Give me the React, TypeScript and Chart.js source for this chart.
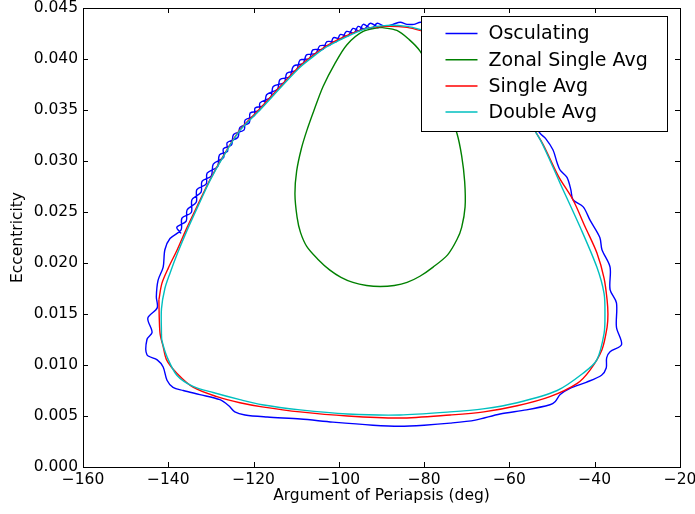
import React, { useEffect, useRef } from "react";
import { Chart, registerables } from "chart.js";

Chart.register(...registerables);

const xTickValues = [-160, -140, -120, -100, -80, -60, -40, -20];
const yTickValues = [0, 0.005, 0.01, 0.015, 0.02, 0.025, 0.03, 0.035, 0.04, 0.045];
const seriesNames = ["Osculating", "Zonal Single Avg", "Single Avg", "Double Avg"];
const seriesColors = ["#0000ff", "#008000", "#ff0000", "#00bfbf"];
const xTitle = "Argument of Periapsis (deg)";
const yTitle = "Eccentricity";

// Osculating (blue)
const osculatingX = [
  -137.0, -138.0, -135.8, -135.6, -133.45, -133.3, -131.1, -130.9, -128.45, -128.0, -126.1, -126.2, -123.7, -123.2,
  -121.0, -120.8, -118.65, -118.5, -115.95, -115.4, -112.8, -112.2, -109.95, -109.1, -106.9, -106.1, -103.75, -102.8,
  -100.55, -99.7, -97.9, -96.7, -95.2, -94.3, -92.35, -91.0,
  -89.2, -87.3, -85.6, -84.0, -82.4, -80.8, -78.5, -76.0, -73.0, -70.0, -67.0, -64.0, -61.5, -59.0, -56.5, -54.5,
  -52.8, -51.5, -49.8, -48.8, -48.1, -46.5, -45.6, -45.1, -42.7, -41.1, -38.8, -38.3, -36.4, -36.4, -34.9, -34.9,
  -33.7, -36.4, -37.2, -37.3, -38.4, -42.0, -45.8, -48.1, -49.3, -50.5, -56.0, -62.2, -68.0, -73.9, -80.0, -85.7,
  -92.0, -101.4, -109.0, -116.8, -122.0, -124.4, -125.8, -127.9, -132.6, -136.5, -138.9, -140.3, -141.2, -142.6,
  -145.0, -145.0, -143.8, -144.8, -142.6, -142.8, -142.4, -141.2, -140.8, -139.6,
  -137.0, -136.8, -134.6, -134.45, -132.3, -132.1, -129.9, -129.45, -127.0, -127.1, -125.2, -124.7, -122.2, -122.0,
  -119.8, -119.65, -117.5, -116.95, -114.4, -113.8, -111.5, -110.65, -108.4, -107.6, -105.4, -104.45, -102.1,
  -101.25, -99.4, -98.2, -96.4, -95.5, -94.0, -92.6, -90.7,
];
const osculatingY = [
  0.0229, 0.0235, 0.0241, 0.0252, 0.02595, 0.0272, 0.02775, 0.0288, 0.02945, 0.0306, 0.03095, 0.0318, 0.0323, 0.0333,
  0.03375, 0.0347, 0.03495, 0.0357, 0.03625, 0.0373, 0.0377, 0.0386, 0.0389, 0.0399, 0.04005, 0.0409, 0.04095, 0.0417,
  0.0417, 0.0424, 0.04225, 0.043, 0.04275, 0.0434, 0.043, 0.0435,
  0.0432, 0.0434, 0.0436, 0.0434, 0.0434, 0.0436, 0.0433, 0.043, 0.0424, 0.0416, 0.0407, 0.0396, 0.0384, 0.0371,
  0.0355, 0.034, 0.0327, 0.0322, 0.0311, 0.0298, 0.0291, 0.0284, 0.0272, 0.0262, 0.0255, 0.0242, 0.0225, 0.0213,
  0.0196, 0.0174, 0.0161, 0.0137, 0.012, 0.0113, 0.0107, 0.0097, 0.009, 0.0083, 0.0077, 0.0071, 0.0064, 0.0061,
  0.0056, 0.0052, 0.0046, 0.0043, 0.0041, 0.004, 0.0041, 0.0044, 0.0047, 0.0049, 0.0051, 0.0054, 0.006, 0.0066,
  0.0071, 0.0075, 0.0078, 0.0085, 0.0098, 0.0105, 0.011, 0.0125, 0.0132, 0.0146, 0.0156, 0.0167, 0.0183, 0.0196,
  0.0213, 0.0224,
  0.02325, 0.0244, 0.02495, 0.0262, 0.02695, 0.028, 0.02855, 0.0297, 0.03035, 0.0312, 0.03155, 0.0326, 0.03305, 0.034,
  0.03445, 0.0352, 0.03545, 0.0365, 0.03705, 0.038, 0.03825, 0.0393, 0.03955, 0.0404, 0.04055, 0.0413, 0.04135,
  0.0421, 0.04195, 0.0427, 0.04255, 0.0432, 0.04295, 0.0435, 0.04305,
];

// Zonal Single Avg (green)
const zonalX = [
  -90.3, -86.4, -83.5, -81.0, -78.5, -76.0, -74.0, -72.3, -71.2, -70.5, -70.4, -71.2, -72.3, -74.5, -77.9, -81.0,
  -84.0, -87.0, -90.3, -93.5, -96.7, -99.5, -102.1, -105.0, -107.5, -109.0, -109.8, -110.3, -109.9, -108.8,
  -107.5, -105.8, -103.7, -101.0, -98.1, -94.3, -90.3,
];
const zonalY = [
  0.0431, 0.0428, 0.0419, 0.0408, 0.039, 0.0365, 0.0345, 0.0327, 0.0305, 0.028, 0.0255, 0.0235, 0.0223, 0.0208,
  0.0196, 0.0187, 0.0181, 0.0178, 0.0177, 0.0178, 0.0181, 0.0186, 0.0193, 0.0204, 0.0216, 0.023, 0.0245, 0.0268,
  0.029, 0.0312, 0.033, 0.035, 0.0373, 0.0395, 0.0414, 0.0427, 0.0431,
];

// Single Avg (red)
const singleX = [
  -142.2, -141.5, -140.0, -137.9, -135.8, -133.2, -130.3, -127.1, -123.3, -118.6, -113.1, -109.2, -105.6, -102.9,
  -98.2, -93.5, -88.7, -84.0, -81.0, -76.0, -70.0, -64.0, -58.0, -52.6, -48.5, -45.1, -42.2, -39.5, -37.8, -37.1,
  -36.9, -37.1, -38.3, -41.1, -44.1, -50.5, -58.2, -66.0, -73.9, -85.7, -98.0, -109.1, -118.0, -123.2, -128.6,
  -134.1, -138.0, -140.4, -141.2, -141.9, -142.1, -142.2,
];
const singleY = [
  0.0164, 0.018, 0.0195, 0.0213, 0.0233, 0.0256, 0.0281, 0.0305, 0.033, 0.0351, 0.0376, 0.0393, 0.0405, 0.0413,
  0.0423, 0.043, 0.0432, 0.0431, 0.0428, 0.0421, 0.0404, 0.0382, 0.0354, 0.032, 0.0285, 0.0262, 0.0235, 0.021,
  0.0185, 0.0164, 0.015, 0.0137, 0.0115, 0.0095, 0.0082, 0.0069, 0.006, 0.0054, 0.0051, 0.0048, 0.005, 0.0054,
  0.0059, 0.0063, 0.0069, 0.0078, 0.0092, 0.0105, 0.0118, 0.013, 0.0144, 0.0164,
];

// Double Avg (cyan)
const doubleX = [
  -141.6, -141.6, -140.8, -139.6, -137.8, -135.6, -133.0, -130.2, -127.0, -123.2, -118.5, -113.0, -109.1, -105.5,
  -102.8, -98.1, -93.4, -88.7, -84.0, -81.0, -76.0, -70.0, -64.0, -58.0, -52.8, -48.1, -43.4, -39.5, -37.8, -37.6,
  -37.8, -39.5, -42.7, -48.8, -58.2, -66.2, -73.9, -85.7, -98.0, -109.1, -118.0, -123.2, -129.5, -134.2, -138.0,
  -140.3, -141.5, -141.6,
];
const doubleY = [
  0.013, 0.0155, 0.0175, 0.019, 0.021, 0.0232, 0.0256, 0.0281, 0.0305, 0.033, 0.035, 0.0375, 0.0392, 0.0404,
  0.0412, 0.0422, 0.043, 0.0433, 0.0432, 0.0429, 0.0422, 0.0405, 0.0383, 0.0355, 0.0321, 0.0278, 0.0235, 0.0196,
  0.017, 0.015, 0.0131, 0.0105, 0.0092, 0.0075, 0.0063, 0.0057, 0.0054, 0.0051, 0.0052, 0.0056, 0.0061, 0.0066,
  0.0073, 0.0079, 0.009, 0.0108, 0.0124, 0.013,
];

const FONT = "DejaVu Sans";

const toPoints = (xs: number[], ys: number[]) => xs.map((x, i) => ({ x, y: ys[i] }));

const fmtX = (v: number) => (v < 0 ? "\u2212" + Math.abs(v) : String(v));

const framePlugin = {
  id: "mplFrame",
  afterDraw(chart: any) {
    const { ctx, chartArea } = chart;
    const { left, right, top, bottom } = chartArea;
    const xs = chart.scales.x;
    const ys = chart.scales.y;
    ctx.save();
    ctx.strokeStyle = "#000";
    ctx.lineWidth = 1;
    // inward ticks
    ctx.beginPath();
    xTickValues.forEach((v) => {
      const p = Math.round(xs.getPixelForValue(v)) + 0.5;
      ctx.moveTo(p, bottom);
      ctx.lineTo(p, bottom - 5);
      ctx.moveTo(p, top);
      ctx.lineTo(p, top + 5);
    });
    yTickValues.forEach((v) => {
      const p = Math.round(ys.getPixelForValue(v)) + 0.5;
      ctx.moveTo(left, p);
      ctx.lineTo(left + 5, p);
      ctx.moveTo(right, p);
      ctx.lineTo(right - 5, p);
    });
    ctx.stroke();

    // legend box
    const lx = Math.round(right - 259) + 0.5;
    const ly = Math.round(top + 8) + 0.5;
    const lw = 246;
    const lh = 115;
    ctx.fillStyle = "#fff";
    ctx.fillRect(lx, ly, lw, lh);
    ctx.strokeStyle = "#000";
    ctx.lineWidth = 1;
    ctx.strokeRect(lx, ly, lw, lh);
    ctx.font = `19px "${FONT}"`;
    ctx.textBaseline = "middle";
    ctx.textAlign = "left";
    seriesNames.forEach((name, i) => {
      const yy = ly + 17 + i * 26.2;
      ctx.strokeStyle = seriesColors[i];
      ctx.lineWidth = 1.5;
      ctx.beginPath();
      ctx.moveTo(lx + 24, yy);
      ctx.lineTo(lx + 56, yy);
      ctx.stroke();
      ctx.fillStyle = "#000";
      ctx.fillText(name, lx + 67, yy + 1);
    });

    // frame
    ctx.strokeStyle = "#000";
    ctx.lineWidth = 1;
    ctx.strokeRect(Math.round(left) + 0.5, Math.round(top) + 0.5, Math.round(right - left), Math.round(bottom - top));

    // axis titles
    ctx.fillStyle = "#000";
    ctx.font = `15.5px "${FONT}"`;
    ctx.textAlign = "center";
    ctx.textBaseline = "middle";
    ctx.fillText(xTitle, (left + right) / 2, bottom + 29);
    ctx.save();
    ctx.translate(18, (top + bottom) / 2);
    ctx.rotate(-Math.PI / 2);
    ctx.fillText(yTitle, 0, 0);
    ctx.restore();
    ctx.restore();
  },
};

export default function App() {
  const canvasRef = useRef<HTMLCanvasElement | null>(null);

  useEffect(() => {
    if (!canvasRef.current) return;
    const mk = (i: number, xs: number[], ys: number[], order: number) => ({
      label: seriesNames[i],
      data: toPoints(xs, ys),
      borderColor: seriesColors[i],
      backgroundColor: seriesColors[i],
      showLine: true,
      fill: false,
      pointRadius: 0,
      borderWidth: 1.4,
      tension: 0.3,
      order,
    });
    const chart = new Chart(canvasRef.current, {
      type: "scatter",
      data: {
        datasets: [
          mk(0, osculatingX, osculatingY, 3),
          mk(1, zonalX, zonalY, 2),
          mk(2, singleX, singleY, 1),
          mk(3, doubleX, doubleY, 0),
        ],
      },
      options: {
        animation: false,
        responsive: true,
        maintainAspectRatio: false,
        layout: { padding: { top: 8, right: 15, left: 0, bottom: 0 } },
        plugins: { legend: { display: false }, tooltip: { enabled: false } },
        scales: {
          x: {
            type: "linear",
            min: -160,
            max: -20,
            afterBuildTicks: (s: any) => {
              s.ticks = xTickValues.map((v) => ({ value: v }));
            },
            afterFit: (s: any) => {
              s.height = 47;
              s.paddingLeft = 0;
              s.paddingRight = 0;
            },
            ticks: {
              callback: (v: any) => fmtX(Number(v)),
              color: "#000",
              font: { family: FONT, size: 15.5 },
              padding: 4,
              maxRotation: 0,
              autoSkip: false,
            },
            grid: { display: false, drawTicks: false },
            border: { display: false },
          },
          y: {
            type: "linear",
            min: 0,
            max: 0.045,
            afterBuildTicks: (s: any) => {
              s.ticks = yTickValues.map((v) => ({ value: v }));
            },
            afterFit: (s: any) => {
              s.width = 83;
              s.paddingTop = 0;
              s.paddingBottom = 0;
            },
            ticks: {
              callback: (v: any) => Number(v).toFixed(3),
              color: "#000",
              font: { family: FONT, size: 15.5 },
              padding: 5,
              autoSkip: false,
            },
            grid: { display: false, drawTicks: false },
            border: { display: false },
          },
        },
      } as any,
      plugins: [framePlugin],
    });
    return () => chart.destroy();
  }, []);

  return (
    <div style={{ position: "absolute", left: 0, top: 0, width: 695, height: 514, background: "#fff" }}>
      <canvas ref={canvasRef} />
    </div>
  );
}
